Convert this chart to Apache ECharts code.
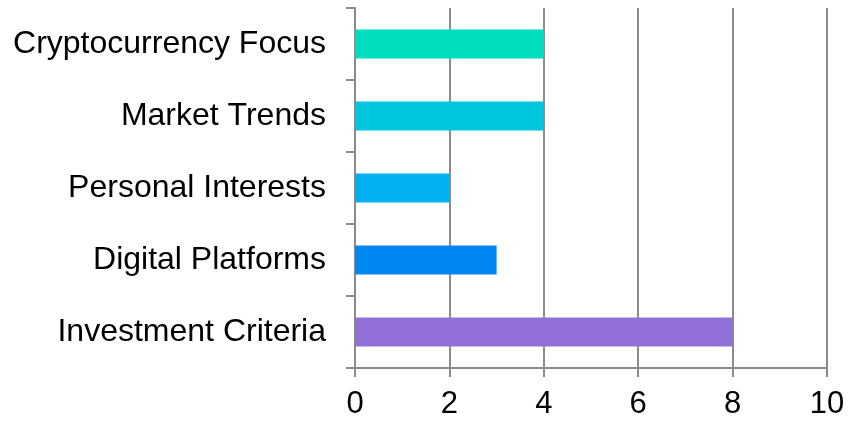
<!DOCTYPE html>
<html>
<head>
<meta charset="utf-8">
<script src="https://cdn.jsdelivr.net/npm/echarts@6/dist/echarts.min.js"></script>
<style>
  html, body { margin: 0; padding: 0; background: #ffffff; }
  #chart { width: 851px; height: 422px; }
</style>
</head>
<body>
<div id="chart"></div>
<script>
// Categories listed top to bottom
const categories = [
  'Cryptocurrency Focus',
  'Market Trends',
  'Personal Interests',
  'Digital Platforms',
  'Investment Criteria'
];
const values = [4, 4, 2, 3, 8];
const barColors = ['#00DCBE', '#00C6DE', '#00B0F0', '#0088F2', '#9370D8'];
const xTicks = [0, 2, 4, 6, 8, 10];

const axisGray = '#8C8C8C';
const font = 'Liberation Sans, Arial, sans-serif';

const chart = echarts.init(document.getElementById('chart'), null, { renderer: 'canvas' });

chart.setOption({
  animation: false,
  backgroundColor: '#ffffff',
  grid: { left: 355, right: 24, top: 8, bottom: 54, containLabel: false },
  xAxis: {
    type: 'value',
    min: xTicks[0],
    max: xTicks[xTicks.length - 1],
    interval: xTicks[1] - xTicks[0],
    axisLine: { show: true, lineStyle: { color: axisGray, width: 2 } },
    axisTick: { show: true, length: 9, lineStyle: { color: axisGray, width: 2 } },
    splitLine: { show: true, lineStyle: { color: axisGray, width: 2 } },
    axisLabel: { color: '#000000', fontSize: 31, fontFamily: font, margin: 21 }
  },
  yAxis: {
    type: 'category',
    inverse: true,
    data: categories,
    axisLine: { show: true, lineStyle: { color: axisGray, width: 2 } },
    axisTick: { show: true, length: 9, lineStyle: { color: axisGray, width: 2 } },
    axisLabel: { color: '#000000', fontSize: 32, fontFamily: font, margin: 29, padding: [5, 0, 0, 0] },
    splitLine: { show: false }
  },
  series: [{
    type: 'bar',
    barWidth: '40%',
    data: values.map((v, i) => ({ value: v, itemStyle: { color: barColors[i] } }))
  }]
});
</script>
</body>
</html>
